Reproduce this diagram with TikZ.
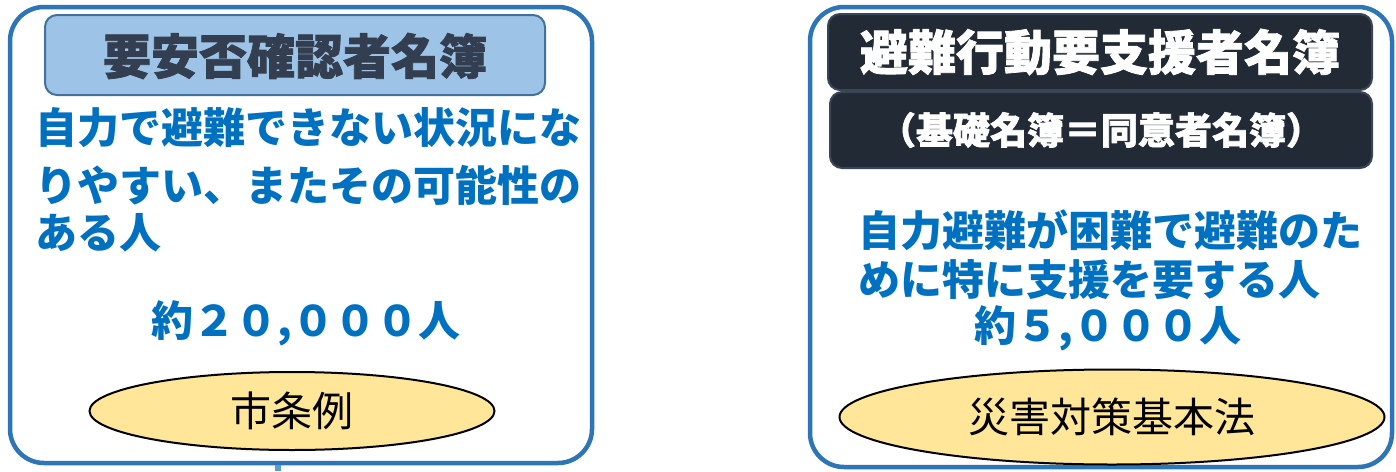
\documentclass[tikz,border=0pt]{standalone}
\usepackage{fontspec}
\setmainfont{Noto Sans CJK JP}
\newfontfamily\heavyjp{Noto Sans CJK JP}[BoldFeatures={FakeBold=1.6}]
\usetikzlibrary{shapes.geometric}
\definecolor{frameblue}{HTML}{2E75B6}
\definecolor{titlefill}{HTML}{9DC3E6}
\definecolor{titleline}{HTML}{41719C}
\definecolor{titletext}{HTML}{333F50}
\definecolor{darkfill}{HTML}{222A35}
\definecolor{darkline}{HTML}{3A4556}
\definecolor{textblue}{HTML}{0070C0}
\definecolor{ovalfill}{HTML}{FFE699}
\definecolor{linkblue}{HTML}{5B9BD5}
\tikzset{
  outerbox/.style={draw=frameblue, line width=4.5pt, rounded corners=34pt, fill=white, inner sep=0pt},
  lighttitle/.style={draw=titleline, line width=2pt, fill=titlefill, rounded corners=12pt, inner sep=0pt},
  darktitle/.style={draw=darkline, line width=2pt, fill=darkfill, rounded corners=12pt, inner sep=0pt, text=white},
  bluetext/.style={inner sep=0pt, text=textblue, font=\fontsize{42}{44}\selectfont\bfseries},
  oval/.style={ellipse, draw=black, line width=2pt, fill=ovalfill, inner sep=0pt, font=\fontsize{41}{43}\selectfont},
}
\begin{document}
\begin{tikzpicture}[x=1pt,y=-1pt]
\useasboundingbox (0,0) rectangle (1396,471);
% left panel
\coordinate (lineend) at (278,471);
\node[outerbox, minimum width=582pt, minimum height=456pt] (leftbox) at (301,235) {};
\draw[linkblue, line width=6pt] (leftbox.south -| lineend) -- (lineend);
\node[lighttitle, minimum width=500pt, minimum height=80pt] (lefttitle) at (295,55) {};
\node[inner sep=0pt, text=titletext, font=\fontsize{48}{50}\heavyjp\bfseries] (lefttitletext) at (295,56) {要安否確認者名簿};
\node[bluetext, anchor=west] (l1) at (35,128) {自力で避難できない状況にな};
\node[bluetext, anchor=west] (l2) at (35,185) {りやすい、またその可能性の};
\node[bluetext, anchor=west] (l3) at (35,233) {ある人};
\node[bluetext] (lnum) at (306,323) {約２０,０００人};
\node[oval, minimum width=405pt, minimum height=78pt] (lellipse) at (292,411) {市条例};
% right panel
\node[outerbox, minimum width=582pt, minimum height=460pt] (rightbox) at (1101,237) {};
\node[darktitle, minimum width=544pt, minimum height=76pt, font=\fontsize{48}{50}\heavyjp\bfseries] (righttitle) at (1100,52) {避難行動要支援者名簿};
\node[darktitle, minimum width=542pt, minimum height=76pt, font=\fontsize{37}{39}\heavyjp\bfseries] (rightsub) at (1101,130) {（基礎名簿＝同意者名簿）};
\node[bluetext, anchor=west] (r1) at (858,230) {自力避難が困難で避難のた};
\node[bluetext, anchor=west] (r2) at (858,280) {めに特に支援を要する人};
\node[bluetext] (rnum) at (1108,328) {約５,０００人};
\node[oval, minimum width=545pt, minimum height=95pt] (rellipse) at (1112,417) {災害対策基本法};
\end{tikzpicture}
\end{document}
